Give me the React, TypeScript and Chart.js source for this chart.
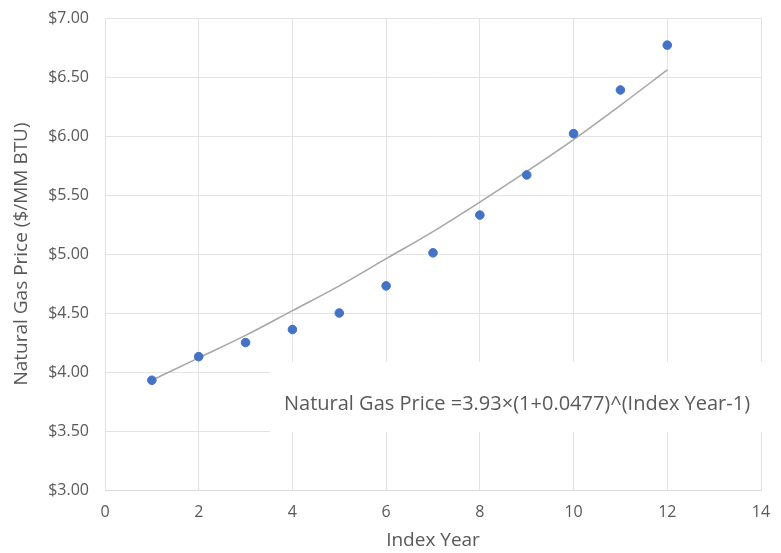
import React, { useEffect, useRef } from "react";
import { Chart, registerables } from "chart.js";

Chart.register(...registerables);

const indexYears = [1, 2, 3, 4, 5, 6, 7, 8, 9, 10, 11, 12];
const gasPrices = [3.93, 4.13, 4.25, 4.36, 4.5, 4.73, 5.01, 5.33, 5.67, 6.02, 6.39, 6.77];
const trendValues = [3.93, 4.12, 4.31, 4.52, 4.73, 4.96, 5.19, 5.44, 5.7, 5.97, 6.26, 6.56];
const xTickValues = [0, 2, 4, 6, 8, 10, 12, 14];
const yTickValues = [3, 3.5, 4, 4.5, 5, 5.5, 6, 6.5, 7];
const equationText = "Natural Gas Price =3.93×(1+0.0477)^(Index Year-1)";

const FONT = "'Open Sans', 'Liberation Sans', sans-serif";
const TEXT = "#595959";

const equationPlugin = {
  id: "equationBox",
  afterDraw(chart: any) {
    const { ctx, chartArea } = chart;
    ctx.save();
    const left = chartArea.left + 165;
    const top = chartArea.top + 344;
    ctx.fillStyle = "#ffffff";
    ctx.fillRect(left, top, 781 - left - 4, 70);
    ctx.fillStyle = TEXT;
    ctx.font = `20px ${FONT}`;
    ctx.textBaseline = "middle";
    ctx.textAlign = "left";
    ctx.fillText(equationText, left + 14, top + 42);
    ctx.restore();
  },
};

export default function App() {
  const ref = useRef<HTMLCanvasElement>(null);
  useEffect(() => {
    if (!ref.current) return;
    const chart = new Chart(ref.current, {
      type: "scatter",
      data: {
        datasets: [
          {
            label: "Trend",
            data: indexYears.map((x, i) => ({ x, y: trendValues[i] })),
            showLine: true,
            borderColor: "#a6a6a6",
            borderWidth: 1.5,
            pointRadius: 0,
            tension: 0.4,
            cubicInterpolationMode: "monotone",
            order: 2,
          } as any,
          {
            label: "Price",
            data: indexYears.map((x, i) => ({ x, y: gasPrices[i] })),
            backgroundColor: "#4472c4",
            borderColor: "#4472c4",
            pointRadius: 4.3,
            order: 1,
          },
        ],
      },
      options: {
        animation: false,
        responsive: true,
        maintainAspectRatio: false,
        layout: { padding: { left: 10, top: 18, right: 20, bottom: 1 } },
        plugins: { legend: { display: false }, tooltip: { enabled: false } },
        scales: {
          x: {
            type: "linear",
            min: 0,
            max: 14,
            afterBuildTicks: (s: any) => {
              s.ticks = xTickValues.map((v) => ({ value: v }));
            },
            afterFit: (s: any) => {
              s.height = 62;
              s.paddingLeft = 0;
              s.paddingRight = 0;
            },
            grid: { color: "#e3e3e3", drawTicks: false },
            border: { color: "#d9d9d9" },
            ticks: { color: TEXT, font: { family: FONT, size: 16 }, padding: 13 },
            title: {
              display: true,
              text: "Index Year",
              color: TEXT,
              font: { family: FONT, size: 19 },
              padding: { top: 2, bottom: 0 },
            },
          },
          y: {
            type: "linear",
            min: 3,
            max: 7,
            afterBuildTicks: (s: any) => {
              s.ticks = yTickValues.map((v) => ({ value: v }));
            },
            afterFit: (s: any) => {
              s.width = 95;
              s.paddingTop = 0;
              s.paddingBottom = 0;
            },
            grid: { color: "#e3e3e3", drawTicks: false },
            border: { color: "#e3e3e3" },
            ticks: {
              color: TEXT,
              font: { family: FONT, size: 16 },
              padding: 16,
              callback: (v: any) => "$" + Number(v).toFixed(2),
            },
            title: {
              display: true,
              text: "Natural Gas Price ($/MM BTU)",
              color: TEXT,
              font: { family: FONT, size: 19 },
              padding: { top: 0, bottom: 2 },
            },
          },
        },
      },
      plugins: [equationPlugin],
    });
    return () => chart.destroy();
  }, []);
  return (
    <div style={{ position: "absolute", left: 0, top: 0, width: 781, height: 553, background: "#fff" }}>
      <canvas ref={ref} />
    </div>
  );
}
